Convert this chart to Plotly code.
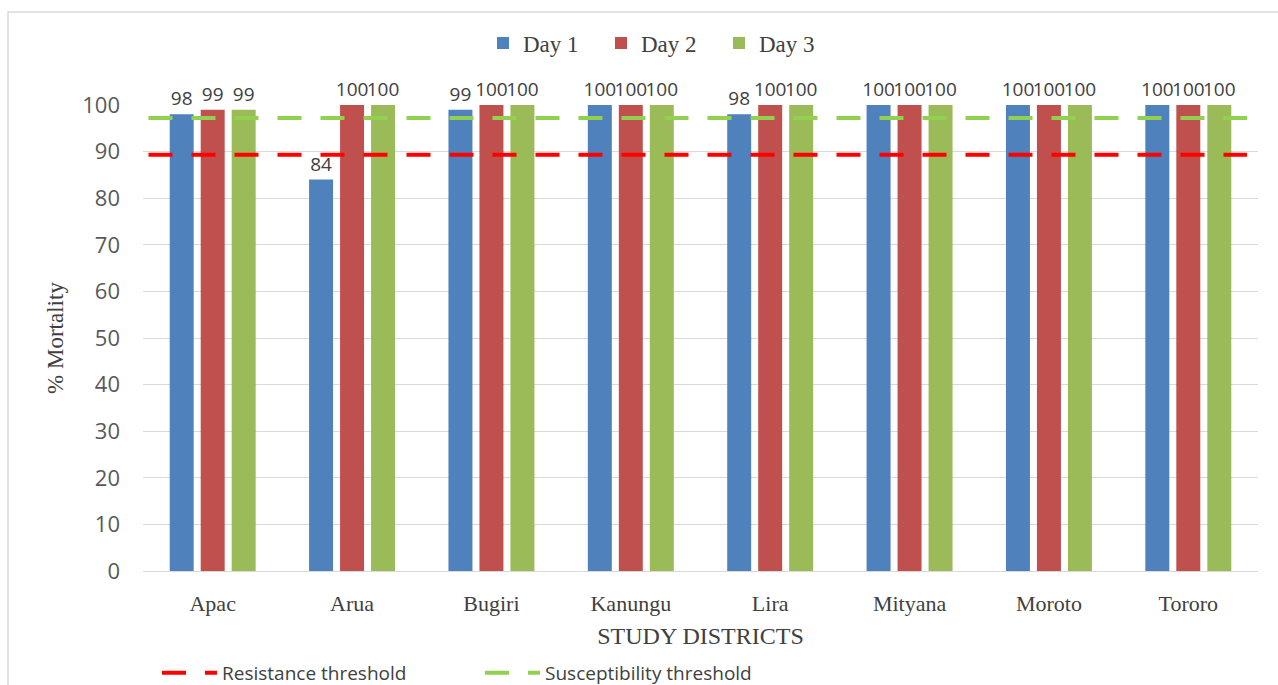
import plotly.graph_objects as go

# Study districts and per-day mortality (%)
districts = ["Apac", "Arua", "Bugiri", "Kanungu", "Lira", "Mityana", "Moroto", "Tororo"]
day1 = [98, 84, 99, 100, 98, 100, 100, 100]
day2 = [99, 100, 100, 100, 100, 100, 100, 100]
day3 = [99, 100, 100, 100, 100, 100, 100, 100]

# WHO threshold levels
resistance_threshold = 89.3
susceptibility_threshold = 97.2

W, H = 1278, 685
ML, MR, MT, MB = 143, 20, 105, 114

serif = "Liberation Serif"
sans = "Open Sans"

fig = go.Figure()

for name, vals, color in [("Day 1", day1, "#4F81BD"),
                          ("Day 2", day2, "#C0504D"),
                          ("Day 3", day3, "#9BBB59")]:
    fig.add_trace(go.Bar(
        x=districts, y=vals, name=name, marker_color=color,
        marker_line_width=0,
        text=[str(v) for v in vals], textposition="outside",
        constraintext="none",
        textfont=dict(family=sans, size=19, color="#404040"),
        cliponaxis=False, legend="legend",
    ))

for name, val, color in [("Resistance threshold", resistance_threshold, "#FF0000"),
                         ("Susceptibility threshold", susceptibility_threshold, "#92D050")]:
    fig.add_trace(go.Scatter(
        x=[0, 1], y=[val, val], xaxis="x2", mode="lines", name=name,
        line=dict(color=color, width=4, dash="24px,19px"),
        legend="legend2", hoverinfo="skip",
    ))

pw = W - ML - MR
ph = H - MT - MB

fig.update_layout(
    width=W, height=H,
    margin=dict(l=ML, r=MR, t=MT, b=MB, autoexpand=False),
    paper_bgcolor="white", plot_bgcolor="white",
    barmode="group", bargap=0.333, bargroupgap=0.226,
    xaxis=dict(
        showgrid=False, showline=True, linecolor="#D9D9D9", linewidth=1,
        ticks="", ticklabelstandoff=13,
        tickfont=dict(family=serif, size=22, color="#404040"),
        title=dict(text="STUDY DISTRICTS", standoff=11,
                   font=dict(family=serif, size=24, color="#404040")),
    ),
    xaxis2=dict(overlaying="x", range=[-0.005, 1.01], visible=False),
    yaxis=dict(
        range=[0, 100], dtick=10, showgrid=True, gridcolor="#D9D9D9",
        gridwidth=1, zeroline=False, ticks="", ticklabelstandoff=22,
        tickfont=dict(family=sans, size=22, color="#595959"),
        title=dict(text="% Mortality", standoff=12,
                   font=dict(family=serif, size=23, color="#404040")),
    ),
    legend=dict(
        orientation="h", x=(483 - ML) / pw, y=1 + (MT - 43) / ph,
        xanchor="left", yanchor="middle",
        font=dict(family=serif, size=23, color="#404040"),
        itemwidth=30, traceorder="normal", entrywidth=73,
    ),
    legend2=dict(
        orientation="h", x=(157 - ML) / pw, y=-(673 - (H - MB)) / ph,
        xanchor="left", yanchor="middle",
        font=dict(family=sans, size=19, color="#404040"),
        itemwidth=55, entrywidth=253,
    ),
    shapes=[dict(
        type="rect", xref="paper", yref="paper", layer="below",
        x0=(8 - ML) / pw, x1=(W + 5 - ML) / pw,
        y0=-(H + 5 - (H - MB)) / ph, y1=1 + (MT - 12) / ph,
        line=dict(color="#D9D9D9", width=1.5), fillcolor="rgba(0,0,0,0)",
    )],
)

fig.write_html("out.html")
